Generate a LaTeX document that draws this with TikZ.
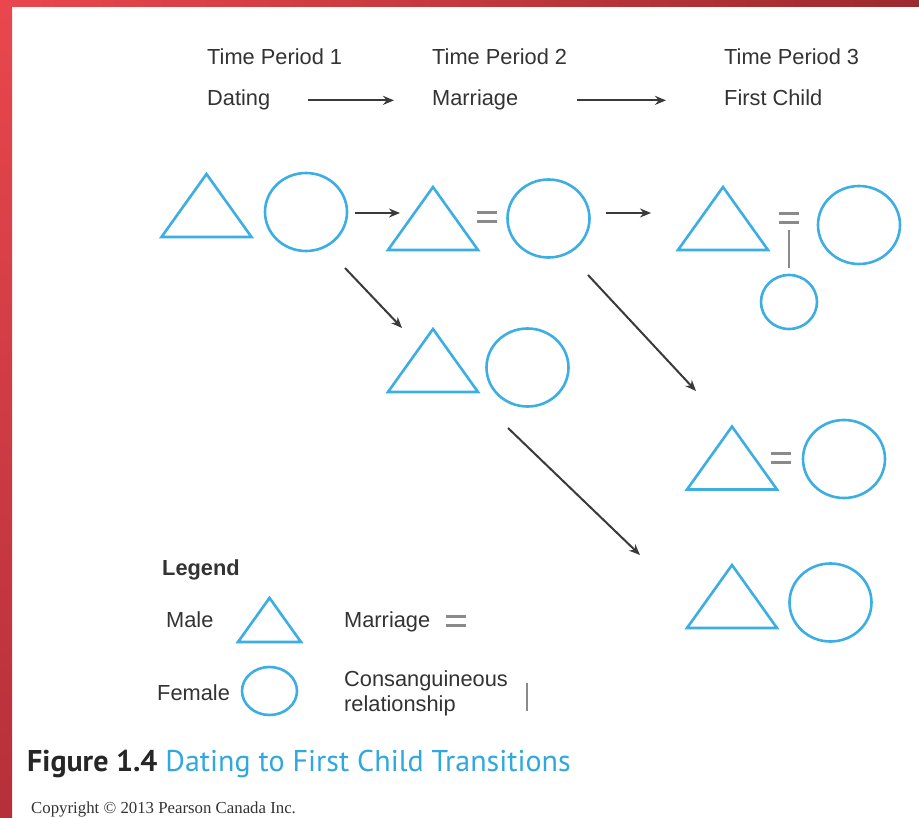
\documentclass[tikz,border=0pt]{standalone}
\usepackage{fontspec}
\setmainfont{Liberation Sans}
\newfontfamily\capfont{PT Sans}
\newfontfamily\copyfont{Liberation Serif}
\usetikzlibrary{arrows.meta,shapes.geometric}

\definecolor{kinblue}{HTML}{3DAEE4}
\definecolor{markgray}{HTML}{8A8A8A}
\definecolor{arrowgray}{HTML}{3A3A3A}
\definecolor{txtgray}{HTML}{333333}
\definecolor{capblue}{HTML}{2FA8DF}
\definecolor{redA}{HTML}{E9474D}
\definecolor{redB}{HTML}{9C2A2E}
\definecolor{redC}{HTML}{B5303A}

\begin{document}
\begin{tikzpicture}[
				x = 1pt, y = -1pt, % pixel grid
				> = {Stealth[length=11pt, width=9pt]}, % arrow head style
				arr/.style = {->, line width=2pt, draw=arrowgray},
				wed/.style = {draw=markgray, line width=2.5pt},
				font=\fontsize{21.8}{25}\selectfont
				]
				
				\tikzstyle{male}=[
				draw = kinblue,
				line width = 2.6pt,
				regular polygon, regular polygon sides = 3,
				minimum size = 103.9pt,
				inner sep = 0pt, outer sep = 0pt,
				yscale = 0.808
				]
				\tikzstyle{female}=[
				draw = kinblue,
				line width = 2.6pt,
				ellipse,
				minimum width = 82pt, minimum height = 78pt,
				inner sep = 0pt, outer sep = 0pt
				]
				\tikzstyle{txt}=[
				anchor = base west,
				inner sep = 0pt,
				text = txtgray
				]
				
				\useasboundingbox[fill=white] (0,0) rectangle (919,818);
				\shade[left color=redA, right color=redB] (0,0) rectangle (919,7);
				\shade[top color=redA, bottom color=redC] (0,0) rectangle (12,818);
				
				% time periods
				\node[txt] (tp1) at (207,65) {Time Period 1};
				\node[txt] (dating) at (207,106) {Dating};
				\node[txt] (tp2) at (432,65) {Time Period 2};
				\node[txt] (marriage) at (432,106) {Marriage};
				\node[txt] (tp3) at (724,65) {Time Period 3};
				\node[txt] (first) at (724,106) {First Child};
				
				\draw[arr, shorten <=38pt, shorten >=38pt] (dating) -- (marriage);
				\draw[arr, shorten <=59pt, shorten >=58pt] (marriage) -- (marriage -| first.west);
				
				% couples
				\node[male] (t1) at (206.5,216) {};
				\node[female] (c1) at (306,212) {};
				\node[male] (t2) at (433,229) {};
				\node[female] (c2) at (548.5,218.5) {};
				\node[male] (t3) at (723,229) {};
				\node[female] (c3) at (859,225) {};
				\node[female, minimum width=56pt, minimum height=54pt] (child) at (789,302) {};
				\node[male] (t4) at (433,371) {};
				\node[female] (c4) at (527.5,367.5) {};
				\node[male] (t5) at (732,468.5) {};
				\node[female] (c5) at (844,459) {};
				\node[male] (t6) at (732,607) {};
				\node[female] (c6) at (830.5,602.5) {};
				
				\coordinate (w2) at (487,217);
				\coordinate (w3) at (789,218);
				\coordinate (w5) at (781,458);
				\coordinate (wl) at (455.5,621);
				\coordinate (kl) at (527,697);
				
				\draw[arr] ([shift={(49,1)}]c1.center) -- ([shift={(-33,-16)}]t2.center);
				\draw[arr] ([shift={(57.5,-5.5)}]c2.center) -- ([shift={(-72,-16)}]t3.center);
				\draw[arr] ([shift={(39,56)}]c1.center) -- ([shift={(-31,-43)}]t4.center);
				\draw[arr] ([shift={(39.5,56.5)}]c2.center) -- ([shift={(-36,-77.5)}]t5.center);
				\draw[arr] ([shift={(-19.5,60.5)}]c4.center) -- ([shift={(-92,-52)}]t6.center);
				
				% marriage signs
				\foreach \w in {w2,w3,w5,wl}
				\draw[wed] ([shift={(-10,-4.5)}]\w) -- ++(20,0)
				([shift={(-10,4.5)}]\w) -- ++(20,0);
				\draw[wed, shorten <=7pt, shorten >=12.5pt] (child.north) -- (w3);
				
				% legend
				\node[txt, font=\fontsize{21.8}{25}\selectfont\bfseries] (legend) at (162,575) {Legend};
				\node[txt] (lmale) at (166,627) {Male};
				\node[txt] (lfemale) at (157,700) {Female};
				\node[male, minimum size=72.7pt] (lm) at (269.5,627.3) {};
				\node[female, minimum width=55pt, minimum height=48pt] (lf) at (269.5,691) {};
				\node[txt] (lmarriage) at (344,627) {Marriage};
				\node[txt, anchor=west, align=left] (lkin) at (344,693.5) {Consanguineous\\relationship};
				\draw[wed] ([yshift=14pt]kl) -- ([yshift=-14pt]kl);
				
				% caption
				\node[anchor=base west, inner sep=0pt, font=\capfont\fontsize{30}{33}\selectfont, text=black!85] (caption) at (27,771)
				{\textbf{Figure 1.4} \textcolor{capblue}{Dating to First Child Transitions}};
				\node[anchor=base west, inner sep=0pt, font=\copyfont\fontsize{16.8}{18}\selectfont, text=black!80] (copyright) at (31,813)
				{Copyright © 2013 Pearson Canada Inc.};
			\end{tikzpicture}
\end{document}
